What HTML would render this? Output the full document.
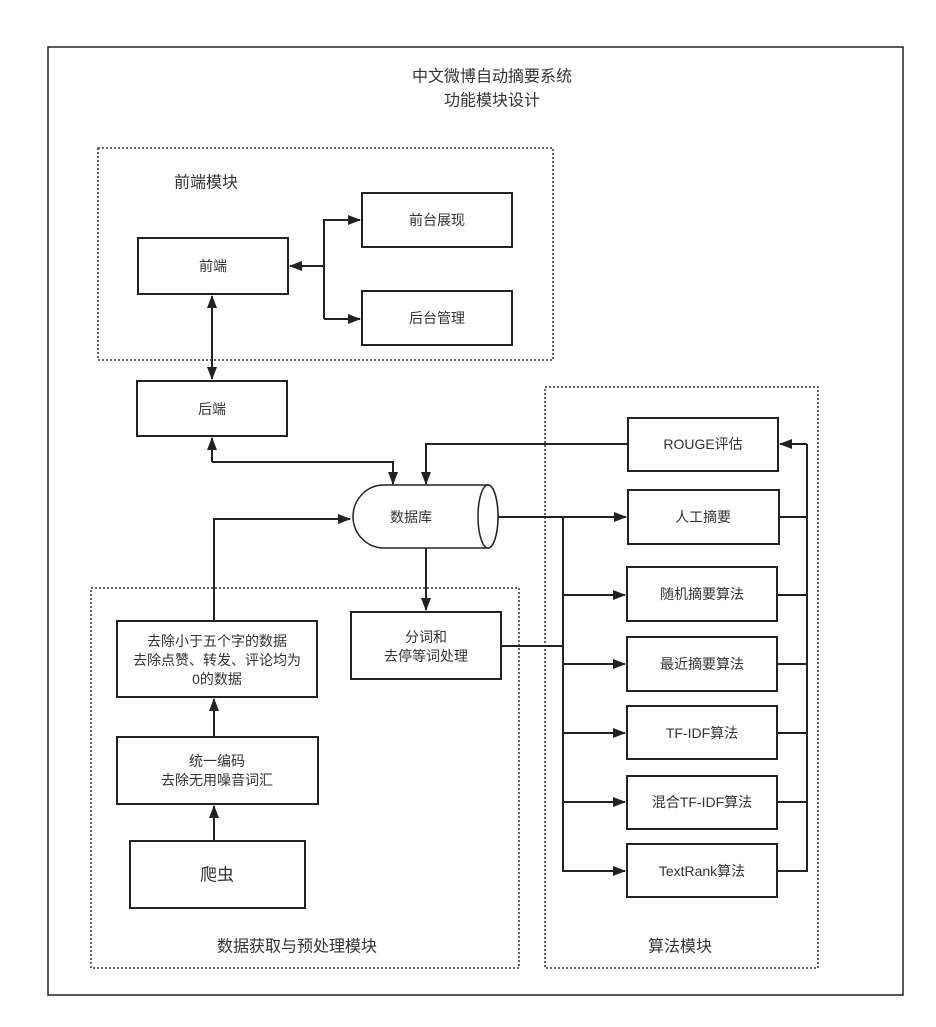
<!DOCTYPE html>
<html><head><meta charset="utf-8"><style>
html,body{margin:0;padding:0;background:#fff}
svg{display:block}
text{font-family:"Liberation Sans","Noto Sans CJK SC",sans-serif;fill:#333;text-anchor:middle;dominant-baseline:central}
</style></head><body>
<svg width="936" height="1027" viewBox="0 0 936 1027" xmlns="http://www.w3.org/2000/svg">
<defs>
<marker id="a" markerWidth="13" markerHeight="10" refX="12" refY="5" orient="auto" markerUnits="userSpaceOnUse">
<path d="M0,0 L13,5 L0,10 z" fill="#222"/></marker>
</defs>
<rect x="48" y="47" width="855" height="948" fill="none" stroke="#222" stroke-width="1.5"/>
<text x="492" y="77" font-size="16">中文微博自动摘要系统</text>
<text x="492" y="101" font-size="16">功能模块设计</text>

<g fill="none" stroke="#333" stroke-width="1.5" stroke-dasharray="2,2">
<rect x="98" y="148" width="455" height="212"/>
<rect x="545" y="387" width="273" height="581"/>
<rect x="91" y="588" width="428" height="380"/>
</g>
<text x="206" y="183" font-size="16">前端模块</text>
<text x="297" y="947" font-size="16">数据获取与预处理模块</text>
<text x="680" y="947" font-size="16">算法模块</text>

<g fill="#fff" stroke="#222" stroke-width="2">
<rect x="138" y="238" width="150" height="56"/>
<rect x="362" y="193" width="150" height="54"/>
<rect x="362" y="291" width="150" height="54"/>
<rect x="137" y="381" width="150" height="55"/>
<rect x="628" y="418" width="150" height="53"/>
<rect x="628" y="490" width="151" height="54"/>
<rect x="627" y="567" width="150" height="54"/>
<rect x="627" y="637" width="150" height="54"/>
<rect x="627" y="706" width="150" height="53"/>
<rect x="627" y="776" width="150" height="53"/>
<rect x="627" y="844" width="150" height="53"/>
<rect x="351" y="612" width="150" height="67"/>
<rect x="117" y="621" width="200" height="76"/>
<rect x="117" y="737" width="201" height="67"/>
<rect x="130" y="841" width="175" height="67"/>
</g>
<path d="M384,485 L488,485 A10,31.5 0 0 1 488,548 L384,548 A31,31.5 0 0 1 384,485 z" fill="#fff" stroke="#222" stroke-width="1.5"/>
<ellipse cx="488" cy="516.5" rx="10" ry="31.5" fill="#fff" stroke="#222" stroke-width="1.5"/>

<g font-size="14">
<text x="213" y="266">前端</text>
<text x="437" y="220">前台展现</text>
<text x="437" y="318">后台管理</text>
<text x="212" y="409">后端</text>
<text x="703" y="444">ROUGE评估</text>
<text x="703" y="517">人工摘要</text>
<text x="702" y="594">随机摘要算法</text>
<text x="702" y="664">最近摘要算法</text>
<text x="702" y="733">TF-IDF算法</text>
<text x="702" y="802">混合TF-IDF算法</text>
<text x="702" y="871">TextRank算法</text>
<text x="411" y="517">数据库</text>
<text x="426" y="637">分词和</text>
<text x="426" y="656">去停等词处理</text>
<text x="217" y="641">去除小于五个字的数据</text>
<text x="217" y="660">去除点赞、转发、评论均为</text>
<text x="217" y="679">0的数据</text>
<text x="217" y="761">统一编码</text>
<text x="217" y="780">去除无用噪音词汇</text>
<text x="217" y="875" font-size="17">爬虫</text>
</g>

<g fill="none" stroke="#222" stroke-width="2">
<line x1="324" y1="266" x2="290" y2="266" marker-end="url(#a)"/>
<polyline points="324,319 324,220 360,220" marker-end="url(#a)"/>
<line x1="324" y1="319" x2="360" y2="319" marker-end="url(#a)"/>
<line x1="212" y1="330" x2="212" y2="296" marker-end="url(#a)"/>
<line x1="212" y1="330" x2="212" y2="379" marker-end="url(#a)"/>
<polyline points="212,462 212,438" marker-end="url(#a)"/>
<polyline points="212,462 393,462 393,484" marker-end="url(#a)"/>
<polyline points="628,444 426,444 426,484" marker-end="url(#a)"/>
<polyline points="498,517 626,517" marker-end="url(#a)"/>
<polyline points="563,517 563,871 625,871"/>
<line x1="563" y1="871" x2="625" y2="871" marker-end="url(#a)"/>
<line x1="563" y1="595" x2="625" y2="595" marker-end="url(#a)"/>
<line x1="563" y1="664" x2="625" y2="664" marker-end="url(#a)"/>
<line x1="563" y1="733" x2="625" y2="733" marker-end="url(#a)"/>
<line x1="563" y1="802" x2="625" y2="802" marker-end="url(#a)"/>
<polyline points="501,646 564,646"/>
<line x1="426" y1="548" x2="426" y2="610" marker-end="url(#a)"/>
<polyline points="807,444 780,444" marker-end="url(#a)"/>
<polyline points="807,444 807,871 777,871"/>
<line x1="779" y1="517" x2="807" y2="517"/>
<line x1="777" y1="595" x2="807" y2="595"/>
<line x1="777" y1="664" x2="807" y2="664"/>
<line x1="777" y1="733" x2="807" y2="733"/>
<line x1="777" y1="802" x2="807" y2="802"/>
<polyline points="214,621 214,519 350,519" marker-end="url(#a)"/>
<line x1="214" y1="737" x2="214" y2="699" marker-end="url(#a)"/>
<line x1="214" y1="841" x2="214" y2="806" marker-end="url(#a)"/>
</g>
</svg>
</body></html>
